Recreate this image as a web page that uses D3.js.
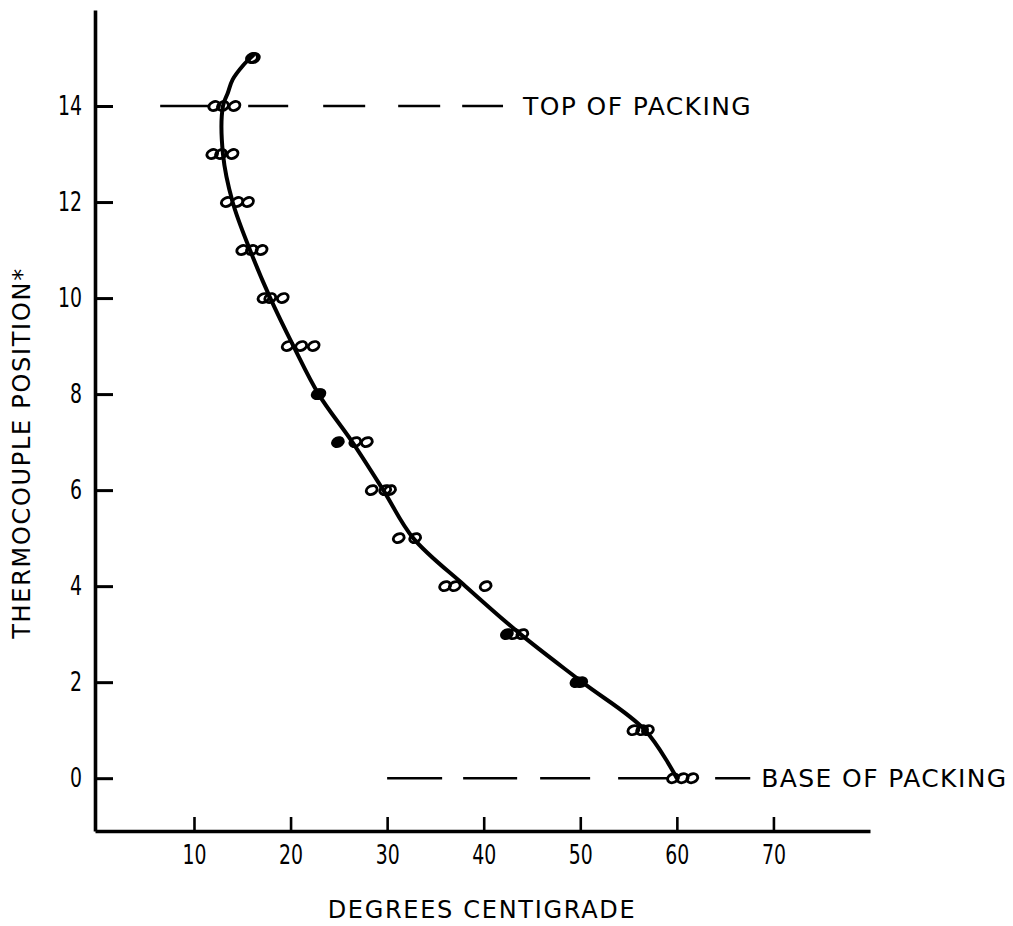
<!DOCTYPE html>
<html>
<head>
<meta charset="utf-8">
<script src="https://cdn.jsdelivr.net/npm/d3@7"></script>
<style>
  html, body { margin: 0; padding: 0; background: #fff; }
  svg { display: block; }
  .tick text { font-family: "DejaVu Sans Condensed", "DejaVu Sans", sans-serif; font-stretch: condensed; font-size: 27px; fill: #000; }
  .label { font-family: "DejaVu Sans", sans-serif; font-size: 24px; letter-spacing: 1.7px; fill: #000; }
  .label.limit { font-size: 25px; letter-spacing: 1.4px; }
</style>
</head>
<body>
<script>
// Thermocouple readings: position in the column vs. temperature (deg C)
const readingLevels = [15, 14, 13, 12, 11, 10, 9, 8, 7, 6, 5, 4, 3, 2, 1, 0];
const readingTemps = [
  [16.0, 16.2],
  [12.1, 13.0, 14.2],
  [11.9, 12.8, 14.0],
  [13.4, 14.5, 15.6],
  [15.0, 16.0, 17.0],
  [17.2, 17.9, 19.2],
  [19.7, 21.1, 22.4],
  [22.8, 23.0],
  [24.9, 26.7, 27.9],
  [28.4, 29.8, 30.3],
  [31.2, 32.9],
  [36.0, 37.0, 40.2],
  [42.4, 43.1, 44.0],
  [49.6, 50.1],
  [55.5, 56.4, 57.0],
  [59.6, 60.6, 61.6]
];
// readings drawn as solid blobs
const solidReadings = ["8:0", "8:1", "7:0", "3:0", "2:0", "2:1"];

// Smoothed temperature profile
const profileTemps = [16.1, 15.1, 14.0, 13.5, 13.0, 13.0, 14.0, 15.8, 17.9, 20.3, 22.9, 26.4, 29.6, 32.7, 38.1, 43.8, 50.2, 56.7, 60.0];
const profilePositions = [15.05, 14.85, 14.55, 14.27, 14.0, 13.0, 12, 11, 10, 9, 8, 7, 6, 5, 4, 3, 2, 1, 0];

// Packing limits
const packingLevels = [14, 0];
const packingNames = ["TOP OF PACKING", "BASE OF PACKING"];
const packingSpans = [[6.5, 42.0], [30.0, 67.6]];

const xTicks = [10, 20, 30, 40, 50, 60, 70];
const yTicks = [0, 2, 4, 6, 8, 10, 12, 14];

const W = 1013, H = 926;
const svg = d3.select("body").append("svg").attr("width", W).attr("height", H);

const x = d3.scaleLinear().domain([-0.25, 80]).range([95, 870]);
const y = d3.scaleLinear().domain([-1.1, 16]).range([831, 10]);

// Axes
const xAxis = d3.axisBottom(x).tickValues(xTicks).tickSizeInner(-14).tickSizeOuter(0).tickPadding(14);
const yAxis = d3.axisLeft(y).tickValues(yTicks).tickSizeInner(-18).tickSizeOuter(0).tickPadding(13);

const gx = svg.append("g").attr("transform", `translate(0,${y(-1.1)})`).call(xAxis);
const gy = svg.append("g").attr("transform", `translate(${x(-0.25)},0)`).call(yAxis);
[gx, gy].forEach(g => {
  g.select(".domain").attr("stroke", "#000").attr("stroke-width", 3.6);
  // narrow numerals
  g.selectAll(".tick text")
    .attr("textLength", d => String(d).length * 12)
    .attr("lengthAdjust", "spacingAndGlyphs");
});
gx.selectAll(".tick line").attr("stroke", "#000").attr("stroke-width", 2.6);
gy.selectAll(".tick line").attr("stroke", "#000").attr("stroke-width", 3);

// Packing limit lines
const dashPatterns = ["50 38 40 35 42 33 42 22 41", "55 21 54 23 50 28 49 48 40"];
packingLevels.forEach((lvl, i) => {
  const [t0, t1] = packingSpans[i];
  svg.append("line")
    .attr("x1", x(t0)).attr("x2", x(t1))
    .attr("y1", y(lvl)).attr("y2", y(lvl))
    .attr("stroke", "#000").attr("stroke-width", 2.6)
    .attr("stroke-dasharray", dashPatterns[i]);
  svg.append("text").attr("class", "label limit")
    .attr("x", x(t1) + (i === 0 ? 20 : 11)).attr("y", y(lvl))
    .attr("dominant-baseline", "central")
    .text(packingNames[i]);
});

// Profile curve
const line = d3.line()
  .x((d, i) => x(profileTemps[i]))
  .y((d, i) => y(profilePositions[i]))
  .curve(d3.curveCatmullRom.alpha(0.5));
svg.append("path")
  .attr("d", line(profileTemps))
  .attr("fill", "none").attr("stroke", "#000").attr("stroke-width", 4)
  .attr("stroke-linecap", "round");

// Readings
const points = [];
readingLevels.forEach((lvl, i) => {
  readingTemps[i].forEach((t, j) => points.push({ lvl, t, solid: solidReadings.includes(`${lvl}:${j}`) }));
});
svg.append("g").selectAll("ellipse").data(points).join("ellipse")
  .attr("transform", d => `translate(${x(d.t)},${y(d.lvl)}) rotate(-25)`)
  .attr("rx", 5.6).attr("ry", 4.2)
  .attr("fill", d => d.solid ? "#000" : "none")
  .attr("stroke", "#000").attr("stroke-width", 2.9);

// Axis titles
svg.append("text").attr("class", "label")
  .attr("x", 482).attr("y", 918)
  .attr("text-anchor", "middle")
  .text("DEGREES CENTIGRADE");
svg.append("text").attr("class", "label")
  .attr("transform", "translate(22,453) rotate(-90)")
  .attr("text-anchor", "middle")
  .attr("dominant-baseline", "central")
  .text("THERMOCOUPLE POSITION*");
</script>
</body>
</html>
